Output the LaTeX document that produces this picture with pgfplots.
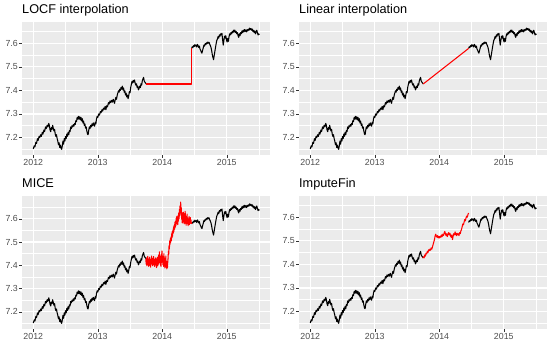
\documentclass[border=0pt]{standalone}
\usepackage{fontspec}
\setmainfont{Liberation Sans}
\usepackage{pgfplots}
\usepackage{pgfplotstable}
\pgfplotsset{compat=1.18}

\definecolor{ggbg}{HTML}{EBEBEB}
\definecolor{ggtext}{HTML}{4D4D4D}
\definecolor{ggtick}{HTML}{333333}

% x = years after 2012, y = log price
\pgfplotstableread{
x y
0.000 7.152
0.015 7.165
0.025 7.160
0.040 7.180
0.050 7.175
0.065 7.195
0.075 7.188
0.090 7.205
0.100 7.200
0.115 7.212
0.125 7.205
0.140 7.222
0.150 7.215
0.165 7.232
0.175 7.225
0.190 7.245
0.200 7.238
0.215 7.252
0.225 7.245
0.240 7.260
0.250 7.250
0.260 7.232
0.270 7.225
0.280 7.242
0.290 7.235
0.300 7.252
0.310 7.240
0.320 7.228
0.330 7.235
0.340 7.215
0.350 7.205
0.360 7.212
0.370 7.195
0.380 7.185
0.390 7.170
0.400 7.178
0.410 7.158
0.420 7.168
0.430 7.155
0.440 7.150
0.450 7.165
0.460 7.185
0.470 7.172
0.480 7.195
0.490 7.185
0.500 7.205
0.510 7.195
0.520 7.215
0.530 7.205
0.540 7.222
0.550 7.212
0.560 7.230
0.570 7.225
0.580 7.245
0.590 7.238
0.600 7.250
0.610 7.245
0.620 7.255
0.630 7.248
0.640 7.260
0.650 7.255
0.660 7.272
0.670 7.268
0.680 7.285
0.690 7.278
0.700 7.290
0.710 7.278
0.720 7.288
0.730 7.275
0.740 7.285
0.750 7.270
0.760 7.280
0.770 7.262
0.780 7.270
0.790 7.252
0.800 7.258
0.810 7.240
0.820 7.245
0.830 7.228
0.840 7.215
0.850 7.212
0.860 7.232
0.870 7.245
0.880 7.238
0.890 7.252
0.900 7.245
0.910 7.258
0.920 7.250
0.930 7.262
0.940 7.255
0.950 7.248
0.960 7.265
0.970 7.258
0.980 7.278
0.990 7.290
1.000 7.285
1.015 7.300
1.025 7.295
1.040 7.310
1.050 7.305
1.065 7.318
1.075 7.312
1.090 7.325
1.100 7.320
1.115 7.332
1.125 7.318
1.140 7.335
1.150 7.330
1.165 7.348
1.175 7.342
1.190 7.355
1.200 7.348
1.215 7.358
1.225 7.350
1.240 7.362
1.250 7.352
1.260 7.345
1.270 7.360
1.280 7.370
1.290 7.362
1.300 7.378
1.310 7.388
1.320 7.398
1.330 7.392
1.340 7.405
1.350 7.400
1.360 7.412
1.370 7.405
1.380 7.418
1.390 7.402
1.400 7.410
1.410 7.392
1.420 7.398
1.430 7.380
1.440 7.388
1.450 7.372
1.460 7.380
1.470 7.365
1.480 7.378
1.490 7.395
1.500 7.390
1.510 7.412
1.520 7.425
1.530 7.438
1.540 7.432
1.550 7.442
1.560 7.435
1.570 7.444
1.580 7.430
1.590 7.422
1.600 7.428
1.610 7.412
1.620 7.418
1.630 7.402
1.640 7.408
1.650 7.418
1.660 7.412
1.670 7.428
1.680 7.422
1.690 7.440
1.700 7.448
1.710 7.455
1.720 7.440
1.730 7.435
1.740 7.432
1.750 7.427
}\blackA

\pgfplotstableread{
x y
2.455 7.578
2.465 7.585
2.475 7.582
2.485 7.590
2.495 7.586
2.505 7.594
2.515 7.588
2.525 7.592
2.535 7.584
2.545 7.595
2.555 7.590
2.565 7.582
2.575 7.588
2.585 7.575
2.595 7.570
2.605 7.562
2.615 7.558
2.625 7.570
2.635 7.580
2.645 7.592
2.655 7.588
2.665 7.598
2.675 7.594
2.685 7.602
2.695 7.598
2.705 7.605
2.715 7.600
2.725 7.604
2.735 7.596
2.745 7.590
2.755 7.582
2.765 7.570
2.775 7.552
2.785 7.540
2.795 7.530
2.805 7.548
2.815 7.565
2.825 7.582
2.835 7.598
2.845 7.612
2.855 7.618
2.865 7.628
2.875 7.622
2.885 7.635
2.895 7.630
2.905 7.640
2.915 7.635
2.925 7.642
2.935 7.615
2.945 7.592
2.955 7.612
2.965 7.630
2.975 7.622
2.985 7.632
2.995 7.615
3.005 7.605
3.015 7.620
3.025 7.608
3.035 7.628
3.045 7.640
3.055 7.635
3.065 7.645
3.075 7.640
3.085 7.650
3.095 7.645
3.105 7.655
3.115 7.648
3.125 7.656
3.135 7.645
3.145 7.650
3.155 7.640
3.165 7.645
3.175 7.632
3.185 7.625
3.195 7.640
3.205 7.632
3.215 7.645
3.225 7.640
3.235 7.652
3.245 7.645
3.255 7.655
3.265 7.648
3.275 7.658
3.285 7.650
3.295 7.656
3.305 7.648
3.315 7.658
3.325 7.652
3.335 7.660
3.345 7.655
3.355 7.664
3.365 7.658
3.375 7.662
3.385 7.655
3.395 7.660
3.405 7.650
3.415 7.655
3.425 7.645
3.435 7.652
3.445 7.640
3.455 7.648
3.465 7.655
3.475 7.645
3.485 7.635
3.495 7.640
3.505 7.636
}\blackB

\pgfplotstableread{
x y
1.750 7.427
2.455 7.427
2.455 7.578
}\locf

\pgfplotstableread{
x y
1.750 7.427
2.455 7.578
}\linear

\pgfplotstableread{
x y
1.745 7.427
1.750 7.405
1.755 7.432
1.760 7.398
1.765 7.425
1.770 7.410
1.775 7.438
1.780 7.402
1.785 7.420
1.790 7.395
1.795 7.428
1.800 7.412
1.805 7.435
1.810 7.400
1.815 7.418
1.820 7.392
1.825 7.425
1.830 7.408
1.835 7.440
1.840 7.405
1.845 7.422
1.850 7.398
1.855 7.430
1.860 7.412
1.865 7.438
1.870 7.402
1.875 7.425
1.880 7.395
1.885 7.418
1.890 7.405
1.895 7.432
1.900 7.400
1.905 7.428
1.910 7.390
1.915 7.415
1.920 7.408
1.925 7.435
1.930 7.398
1.935 7.422
1.940 7.405
1.945 7.445
1.950 7.410
1.955 7.458
1.960 7.415
1.965 7.440
1.970 7.400
1.975 7.430
1.980 7.395
1.985 7.448
1.990 7.412
1.995 7.462
2.000 7.418
2.005 7.440
2.010 7.402
2.015 7.428
2.020 7.395
2.025 7.450
2.030 7.405
2.035 7.432
2.040 7.388
2.045 7.420
2.050 7.398
2.055 7.440
2.060 7.392
2.065 7.418
2.070 7.385
2.075 7.402
2.080 7.390
2.085 7.415
2.090 7.432
2.095 7.460
2.100 7.448
2.105 7.485
2.110 7.470
2.115 7.505
2.120 7.490
2.125 7.515
2.130 7.498
2.135 7.522
2.140 7.505
2.145 7.535
2.150 7.518
2.155 7.545
2.160 7.525
2.165 7.552
2.170 7.538
2.175 7.565
2.180 7.545
2.185 7.572
2.190 7.555
2.195 7.585
2.200 7.562
2.205 7.590
2.210 7.570
2.215 7.602
2.220 7.578
2.225 7.610
2.230 7.585
2.235 7.598
2.240 7.575
2.245 7.615
2.250 7.590
2.255 7.625
2.260 7.600
2.265 7.640
2.270 7.612
2.275 7.655
2.280 7.625
2.285 7.672
2.290 7.630
2.295 7.648
2.300 7.598
2.305 7.625
2.310 7.582
2.315 7.610
2.320 7.592
2.325 7.628
2.330 7.585
2.335 7.615
2.340 7.578
2.345 7.622
2.350 7.595
2.355 7.632
2.360 7.580
2.365 7.612
2.370 7.572
2.375 7.605
2.380 7.588
2.385 7.620
2.390 7.578
2.395 7.600
2.400 7.570
2.405 7.598
2.410 7.582
2.415 7.610
2.420 7.575
2.425 7.600
2.430 7.585
2.435 7.605
2.440 7.580
2.445 7.595
2.450 7.582
2.455 7.578
}\mice

\pgfplotstableread{
x y
1.745 7.427
1.755 7.432
1.765 7.428
1.775 7.440
1.785 7.435
1.795 7.448
1.805 7.445
1.815 7.455
1.825 7.450
1.835 7.462
1.845 7.458
1.855 7.465
1.865 7.460
1.875 7.470
1.885 7.465
1.895 7.475
1.905 7.485
1.915 7.495
1.925 7.505
1.935 7.520
1.945 7.528
1.955 7.520
1.965 7.515
1.975 7.522
1.985 7.512
1.995 7.518
2.005 7.512
2.015 7.520
2.025 7.515
2.035 7.525
2.045 7.518
2.055 7.528
2.065 7.522
2.075 7.532
2.085 7.540
2.095 7.530
2.105 7.522
2.115 7.530
2.125 7.518
2.135 7.528
2.145 7.535
2.155 7.525
2.165 7.532
2.175 7.520
2.185 7.515
2.195 7.525
2.205 7.505
2.215 7.520
2.225 7.530
2.235 7.525
2.245 7.538
2.255 7.528
2.265 7.522
2.275 7.532
2.285 7.525
2.295 7.530
2.305 7.522
2.315 7.535
2.325 7.530
2.335 7.542
2.345 7.548
2.355 7.560
2.365 7.572
2.375 7.568
2.385 7.580
2.395 7.590
2.405 7.585
2.415 7.598
2.425 7.605
2.435 7.600
2.445 7.612
2.455 7.618
}\imputefin

\pgfplotsset{
  gg/.style={
    scale only axis, width=248pt, height=133pt, anchor=south west,
    xmin=-0.175, xmax=3.67, ymin=7.126, ymax=7.69,
    axis background/.style={fill=ggbg},
    axis line style={draw=none},
    xtick={0,1,2,3}, xticklabels={2012,2013,2014,2015},
    ytick={7.2,7.3,7.4,7.5,7.6}, yticklabels={7.2,7.3,7.4,7.5,7.6},
    minor xtick={0.5,1.5,2.5,3.5},
    minor ytick={7.15,7.25,7.35,7.45,7.55,7.65},
    grid=both,
    major grid style={white, line width=1.1pt},
    minor grid style={white, line width=0.55pt},
    tick align=outside, tick pos=left,
    major tick length=3pt, minor tick length=0pt,
    tick style={ggtick, line width=0.5pt},
    tick label style={font=\fontsize{8.8}{10}\selectfont, text=ggtext, inner sep=1pt},
    every axis title/.style={at={(0,1)}, anchor=base west, yshift=8.5pt,
      inner sep=0pt, font=\fontsize{12.7}{14}\selectfont},
  },
  blk/.style={black, line width=1.05pt, line join=round, mark=none},
  rd/.style={red, line width=1.05pt, line join=round, mark=none},
}

\begin{document}
\begin{tikzpicture}
\path[use as bounding box] (0,0) rectangle (555pt,347pt);

\begin{axis}[gg, at={(22pt,192pt)}, title={LOCF interpolation}]
  \addplot[blk] table {\blackA};
  \addplot[blk] table {\blackB};
  \addplot[rd] table {\locf};
\end{axis}

\begin{axis}[gg, at={(299pt,192pt)}, title={Linear interpolation}]
  \addplot[blk] table {\blackA};
  \addplot[blk] table {\blackB};
  \addplot[rd] table {\linear};
\end{axis}

\begin{axis}[gg, at={(22pt,18pt)}, ymax=7.698, title={MICE}]
  \addplot[blk] table {\blackA};
  \addplot[blk] table {\blackB};
  \addplot[rd] table {\mice};
\end{axis}

\begin{axis}[gg, at={(299pt,18pt)}, title={ImputeFin}]
  \addplot[blk] table {\blackA};
  \addplot[blk] table {\blackB};
  \addplot[rd] table {\imputefin};
\end{axis}
\end{tikzpicture}
\end{document}
